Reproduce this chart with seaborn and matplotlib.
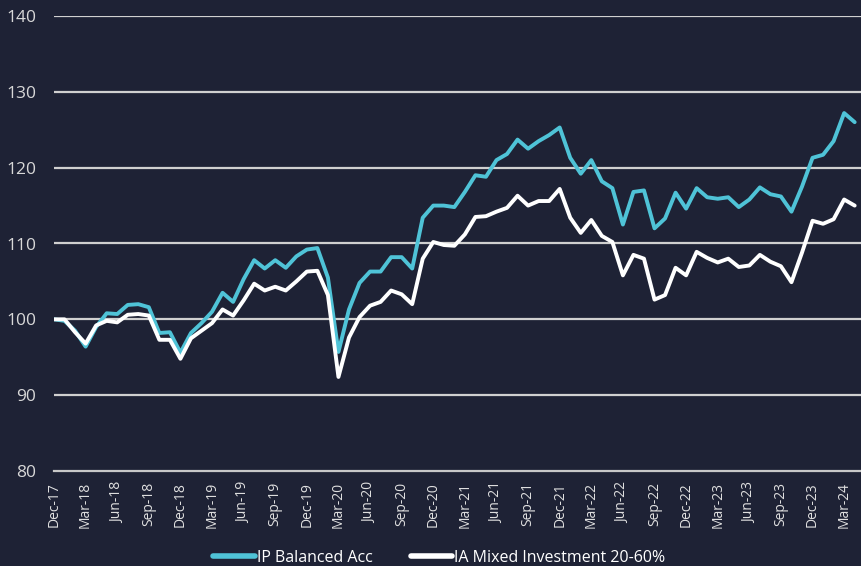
import numpy as np
import pandas as pd
import matplotlib
matplotlib.use("Agg")
import matplotlib.pyplot as plt
import seaborn as sns

# monthly index values, Dec-17 .. Apr-24
ip_balanced = [100.0, 99.8, 98.5, 96.4, 99.0, 100.8, 100.7, 101.9, 102.0, 101.6,
               98.2, 98.3, 95.6, 98.2, 99.5, 101.0, 103.5, 102.3, 105.3, 107.8,
               106.7, 107.8, 106.8, 108.3, 109.2, 109.4, 105.5, 95.7, 101.3, 104.8,
               106.3, 106.3, 108.2, 108.2, 106.7, 113.4, 115.0, 115.0, 114.8, 116.8,
               119.0, 118.8, 121.0, 121.8, 123.7, 122.5, 123.5, 124.3, 125.3, 121.3,
               119.2, 121.0, 118.2, 117.3, 112.5, 116.8, 117.0, 112.0, 113.3, 116.7,
               114.6, 117.3, 116.1, 115.9, 116.1, 114.8, 115.8, 117.4, 116.5, 116.2,
               114.2, 117.5, 121.3, 121.7, 123.5, 127.2, 126.0]
ia_mixed = [100.0, 100.0, 98.3, 96.8, 99.2, 99.8, 99.6, 100.6, 100.7, 100.5,
            97.3, 97.3, 94.8, 97.5, 98.5, 99.5, 101.3, 100.5, 102.5, 104.7,
            103.8, 104.3, 103.8, 105.0, 106.3, 106.4, 103.2, 92.4, 97.6, 100.3,
            101.8, 102.3, 103.8, 103.3, 102.0, 108.0, 110.2, 109.8, 109.7, 111.2,
            113.5, 113.6, 114.2, 114.7, 116.3, 115.0, 115.6, 115.6, 117.2, 113.4,
            111.4, 113.1, 111.0, 110.2, 105.8, 108.5, 108.0, 102.6, 103.2, 106.8,
            105.8, 108.9, 108.1, 107.5, 108.0, 106.9, 107.1, 108.5, 107.6, 107.0,
            104.9, 108.8, 113.0, 112.6, 113.2, 115.8, 115.0]
series_names = ["IP Balanced Acc", "IA Mixed Investment 20-60%"]
tick_labels = ["Dec-17", "Mar-18", "Jun-18", "Sep-18", "Dec-18", "Mar-19", "Jun-19",
               "Sep-19", "Dec-19", "Mar-20", "Jun-20", "Sep-20", "Dec-20", "Mar-21",
               "Jun-21", "Sep-21", "Dec-21", "Mar-22", "Jun-22", "Sep-22", "Dec-22",
               "Mar-23", "Jun-23", "Sep-23", "Dec-23", "Mar-24"]

bg = "#1e2235"
cyan = "#4fc3d7"

months = np.arange(len(ip_balanced))
df = pd.DataFrame({
    "month": np.concatenate([months, months]),
    "value": ip_balanced + ia_mixed,
    "series": [series_names[0]] * len(months) + [series_names[1]] * len(months),
})

sns.set_style("dark")
plt.rcParams["font.family"] = ["Open Sans", "DejaVu Sans"]

fig = plt.figure(figsize=(8.61, 5.66), dpi=100, facecolor=bg)
ax = fig.add_axes([54 / 861, 1 - 471 / 566, 1 - 54 / 861, (471 - 16) / 566])
ax.set_facecolor(bg)

# gridlines
for v in range(90, 141, 10):
    ax.axhline(v, color="#d0d0d0", lw=1.6, zorder=1)

sns.lineplot(data=df, x="month", y="value", hue="series",
             palette=[cyan, "white"], linewidth=2.8, ax=ax, legend=False, zorder=3)

ax.set_xlim(0, 76.6)
ax.set_ylim(80, 140)
ax.set_yticks(range(80, 141, 10))
ax.set_xticks(np.arange(0, 76, 3))
ax.set_xticklabels(tick_labels, rotation=90)
ax.set_xlabel("")
ax.set_ylabel("")
ax.tick_params(axis="y", length=0, labelsize=12.5, labelcolor="#d8d8d8", pad=13)
ax.tick_params(axis="x", length=5, width=1.2, color="#bbbbbb", labelsize=10,
               labelcolor="#e0e0e0", pad=3, direction="out")
for s in ["top", "right", "left"]:
    ax.spines[s].set_visible(False)
ax.spines["bottom"].set_color("#c8c8c8")
ax.spines["bottom"].set_linewidth(1.6)
ax.grid(False)

handles = [plt.Line2D([], [], color=cyan, lw=4), plt.Line2D([], [], color="white", lw=4)]
fig.legend(handles, series_names, loc="center", bbox_to_anchor=(0.51, 0.014), ncol=2,
           frameon=False, fontsize=11.5, labelcolor="white", handlelength=2.6,
           handletextpad=0.1, columnspacing=2.4)

fig.savefig("out.png", dpi=100, facecolor=bg)
